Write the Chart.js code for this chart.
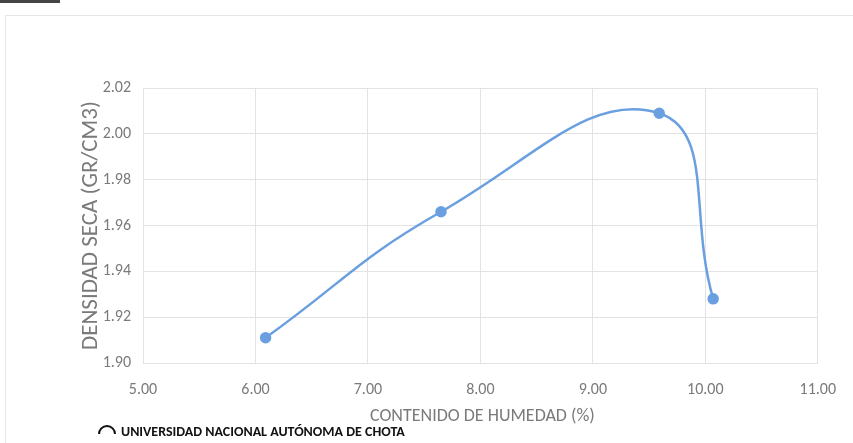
<!DOCTYPE html>
<html>
<head>
<meta charset="utf-8">
<script src="https://cdn.jsdelivr.net/npm/chart.js@4/dist/chart.umd.min.js"></script>
<style>
  html, body { margin: 0; padding: 0; background: #fff; }
  #wrap { width: 853px; height: 443px; }
</style>
</head>
<body>
<div id="wrap"><canvas id="curva"></canvas></div>
<script>
const humedad = [6.09, 7.65, 9.59, 10.07];
const densidad = [1.911, 1.966, 2.009, 1.928];
const xMin = 5, xMax = 11, xPaso = 1;
const yMin = 1.90, yMax = 2.02, yPaso = 0.02;
const tituloX = 'CONTENIDO DE HUMEDAD (%)';
const tituloY = 'DENSIDAD SECA (GR/CM3)';
const sello = 'UNIVERSIDAD NACIONAL AUTÓNOMA DE CHOTA';

const fuente = 'Carlito, Lato, sans-serif';
const gris = '#7a7a7a';
const azul = '#6a9fe0';

const puntos = humedad.map((h, i) => ({ x: h, y: densidad[i] }));

// textos fuera del area: titulo X desplazado, sello y marco del escaneo
const extras = {
    id: 'extras',
    beforeDraw(chart) {
        const c = chart.ctx;
        c.save();
        c.fillStyle = '#fff';
        c.fillRect(0, 0, chart.width, chart.height);
        c.strokeStyle = '#e6e6e6';
        c.lineWidth = 1;
        c.strokeRect(5.5, 15.5, chart.width, chart.height);
        c.fillStyle = '#444';
        c.fillRect(0, 0, 60, 3);
        c.restore();
    },
    afterDraw(chart) {
        const c = chart.ctx;
        const a = chart.chartArea;
        c.save();
        c.fillStyle = gris;
        c.font = '18px ' + fuente;
        c.textAlign = 'left';
        c.textBaseline = 'middle';
        c.fillText(tituloX, 370, a.bottom + 53);
        c.fillStyle = '#111';
        c.font = 'bold 14px "Liberation Sans Narrow", ' + fuente;
        c.fillText(sello, 121, a.bottom + 69);
        c.strokeStyle = '#111';
        c.lineWidth = 2;
        c.beginPath();
        c.arc(107, a.bottom + 71, 8, Math.PI, 2 * Math.PI);
        c.stroke();
        c.restore();
    }
};

new Chart(document.getElementById('curva'), {
    type: 'scatter',
    data: {
        datasets: [{
            data: puntos,
            showLine: true,
            tension: 0.45,
            borderColor: azul,
            backgroundColor: azul,
            borderWidth: 2.5,
            pointRadius: 4.5,
            pointHoverRadius: 4.5
        }]
    },
    plugins: [extras],
    options: {
        responsive: true,
        maintainAspectRatio: false,
        animation: false,
        layout: { padding: { top: 88, right: 26, left: 77, bottom: 0 } },
        plugins: {
            legend: { display: false },
            tooltip: { enabled: false }
        },
        scales: {
            x: {
                min: xMin,
                max: xMax,
                afterFit: s => { s.height = 80; },
                ticks: {
                    stepSize: xPaso,
                    padding: 17,
                    color: gris,
                    font: { family: fuente, size: 16 },
                    callback: v => v.toFixed(2)
                },
                grid: { color: '#e3e3e3', drawTicks: false },
                border: { color: '#e3e3e3' }
            },
            y: {
                min: yMin,
                max: yMax,
                afterFit: s => { s.width = 66; },
                ticks: {
                    stepSize: yPaso,
                    padding: 12,
                    color: gris,
                    font: { family: fuente, size: 16 },
                    callback: v => v.toFixed(2)
                },
                grid: { color: '#e3e3e3', drawTicks: false },
                border: { color: '#e3e3e3' },
                title: {
                    display: true,
                    text: tituloY,
                    color: gris,
                    padding: 0,
                    font: { family: fuente, size: 23 }
                }
            }
        }
    }
});
</script>
</body>
</html>
